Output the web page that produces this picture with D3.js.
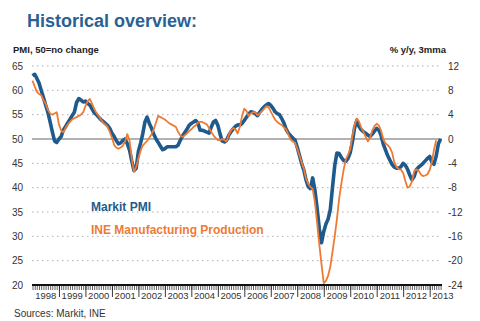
<!DOCTYPE html>
<html>
<head>
<meta charset="utf-8">
<script src="https://cdn.jsdelivr.net/npm/d3@7"></script>
<style>
  html, body { margin: 0; padding: 0; background: #fff; }
  svg { display: block; font-family: "Liberation Sans", Arial, sans-serif; }
</style>
</head>
<body>
<svg id="chart" width="480" height="321"></svg>
<script>
// Spain: Markit manufacturing PMI vs INE manufacturing production
const startMonth = new Date(1998, 0, 1);
const years = [1998, 1999, 2000, 2001, 2002, 2003, 2004, 2005, 2006, 2007, 2008, 2009, 2010, 2011, 2012, 2013];
const leftTicks = [20, 25, 30, 35, 40, 45, 50, 55, 60, 65];
const rightTicks = [-24, -20, -16, -12, -8, -4, 0, 4, 8, 12];

// PMI, 50 = no change (monthly, Jan 1998 - Jun 2013)
const pmi = [
  63.0, 63.3, 62.5, 61.5, 60.0, 58.5, 57.0, 55.5, 53.5, 51.5, 49.6, 49.3,
  50.0, 50.5, 51.8, 52.5, 53.3, 54.0, 54.8, 55.5, 57.5, 58.3, 58.0, 57.6,
  57.8, 57.3, 57.0, 56.2, 55.4, 55.0, 54.5, 54.0, 53.6, 53.2, 52.8, 52.2,
  51.2, 50.5, 49.7, 49.0, 49.2, 49.7, 50.0, 49.0, 47.7, 45.5, 43.5, 44.0,
  47.5, 49.2, 51.0, 53.5, 54.5, 53.2, 52.2, 51.0, 50.0, 49.3, 48.5, 47.8,
  48.0, 48.4, 48.4, 48.4, 48.4, 48.4, 48.7, 49.7, 50.6, 51.3, 52.0, 52.8,
  53.2, 53.5, 53.8, 53.3, 51.8, 51.8, 51.6, 51.4, 51.2, 52.4, 53.5, 53.8,
  52.8, 51.0, 49.6, 49.4, 49.7, 50.8, 51.5, 52.1, 52.6, 52.9, 52.9, 53.2,
  53.8, 54.5, 55.1, 55.6, 55.5, 55.2, 54.8, 55.5, 56.1, 56.6, 57.0, 57.3,
  56.9, 56.3, 55.6, 55.2, 55.0, 54.2, 53.3, 52.0, 51.2, 50.7, 50.2, 49.8,
  48.3, 46.6, 45.0, 43.6, 41.6, 40.2, 39.8, 42.0, 39.5, 35.8, 31.5, 28.7,
  31.0, 32.6, 33.5, 35.5, 40.0, 44.5, 47.1, 47.0, 46.2, 45.6, 45.4, 46.0,
  47.2, 49.5, 52.2, 53.8, 52.6, 51.9, 51.5, 51.2, 50.8, 50.5, 51.0, 51.6,
  52.2, 51.8, 50.8, 49.0, 47.8, 46.6, 45.7, 44.8, 44.2, 44.0, 44.0, 44.3,
  45.0, 44.6, 43.8, 42.6, 41.6, 42.3, 43.7, 44.2, 44.6, 45.0, 45.5, 46.0,
  46.4, 45.2, 44.8, 46.5, 49.0, 50.0
];

// INE manufacturing production, % y/y, 3mma (monthly, Jan 1998 - Apr 2013)
const ine = [
  9.6, 8.6, 7.8, 7.4, 7.2, 6.4, 5.8, 4.8, 4.2, 4.0, 4.2, 4.4,
  2.4, 1.4, 1.1, 1.8, 2.4, 2.8, 3.2, 3.4, 3.6, 3.8, 4.0, 4.4,
  5.4, 6.2, 6.6, 5.8, 5.0, 4.3, 3.8, 3.2, 2.7, 2.4, 2.0, 1.2,
  0.2, -1.0, -1.4, -1.6, -1.4, -1.1, -0.4, 0.8, -0.3, -3.2, -5.4, -4.6,
  -3.2, -1.9, -1.1, -0.7, -0.3, 0.2, 0.8, 1.6, 2.7, 3.8, 3.6, 3.4,
  3.2, 2.9, 2.6, 2.4, 2.2, 2.0, 1.2, 0.6, 0.3, 0.6, 0.9, 1.3,
  1.6, 2.0, 2.2, 2.7, 2.8, 2.8, 2.6, 2.4, 1.8, 1.2, 0.6, 0.2,
  -0.2, -0.2, 0.0, -0.2, -0.4, 0.7, 1.4, 1.8, 1.6, 0.9, 2.0, 3.8,
  5.0, 4.6, 3.8, 4.2, 4.4, 4.4, 3.9, 4.2, 4.6, 5.0, 5.4, 5.2,
  4.5, 3.8, 3.2, 2.8, 2.5, 2.3, 1.9, 1.6, 0.7, -0.1, -0.4, -0.6,
  -1.6, -2.7, -3.8, -4.9, -6.5, -7.4, -7.9, -8.2, -10.4, -13.8, -17.4, -20.6,
  -23.7, -23.3, -22.5, -21.0, -18.6, -16.0, -13.2, -9.8, -7.3, -5.1, -3.4, -2.6,
  -1.7, 0.5, 2.2, 3.4, 2.9, 1.9, 1.2, 0.4, -0.4, 0.2, 1.4, 2.1,
  2.5, 2.2, 1.4, 0.0, -0.7, -1.0, -1.4, -2.2, -3.8, -4.6, -5.0, -5.0,
  -5.6, -6.9, -8.0, -7.8, -7.0, -5.3, -5.0, -5.2, -5.8, -6.1, -6.0, -5.8,
  -5.1, -3.8, -1.8, -0.2
];

const blue = '#1f5a8c';
const orange = '#ef7a33';

const svg = d3.select('#chart');

const x = d3.scaleTime()
  .domain([startMonth, new Date(2013, 5, 20)])
  .range([32.5, 442]);
const yLeft = d3.scaleLinear().domain([20, 65]).range([285, 66]);
const yRight = d3.scaleLinear().domain([-24, 12]).range([285, 66]);

const monthDate = i => d3.timeMonth.offset(startMonth, i);

// title + axis titles
svg.append('text')
  .attr('x', 27).attr('y', 27)
  .attr('font-size', 18).attr('font-weight', 'bold')
  .attr('fill', '#2a6194')
  .text('Historical overview:');

svg.append('text')
  .attr('x', 13).attr('y', 52.5)
  .attr('font-size', 9.5).attr('font-weight', 'bold').attr('fill', '#222')
  .text('PMI, 50=no change');

svg.append('text')
  .attr('x', 446).attr('y', 52.5)
  .attr('text-anchor', 'end')
  .attr('font-size', 9.5).attr('font-weight', 'bold').attr('fill', '#222')
  .text('% y/y, 3mma');

// gridlines
svg.append('g')
  .selectAll('line')
  .data(leftTicks.filter(d => d !== 20 && d !== 50))
  .join('line')
  .attr('x1', 32).attr('x2', 440)
  .attr('y1', d => yLeft(d)).attr('y2', d => yLeft(d))
  .attr('stroke', '#9a9a9a')
  .attr('stroke-width', 0.8)
  .attr('stroke-dasharray', '1.5,3.5');

svg.append('line')
  .attr('x1', 32).attr('x2', 442)
  .attr('y1', yLeft(50)).attr('y2', yLeft(50))
  .attr('stroke', '#555').attr('stroke-width', 0.9);

// left / right tick labels
svg.append('g')
  .selectAll('text')
  .data(leftTicks)
  .join('text')
  .attr('x', 23).attr('y', d => yLeft(d) + 3.5)
  .attr('text-anchor', 'end')
  .attr('font-size', 10).attr('fill', '#333')
  .text(d => d);

svg.append('g')
  .selectAll('text')
  .data(rightTicks)
  .join('text')
  .attr('x', 448).attr('y', d => yRight(d) + 3.5)
  .attr('font-size', 10).attr('fill', '#333')
  .text(d => d);

// x axis: monthly minor ticks, yearly major ticks
const end = x.domain()[1];
const xMinor = d3.axisBottom(x)
  .tickValues(d3.timeMonth.range(startMonth, end))
  .tickSize(5)
  .tickFormat('');
const xMajor = d3.axisBottom(x)
  .tickValues(d3.timeYear.range(new Date(1999, 0, 1), end))
  .tickSize(12)
  .tickFormat('');

svg.append('g')
  .attr('transform', 'translate(0,285)')
  .call(xMinor)
  .call(g => g.select('.domain').remove())
  .call(g => g.selectAll('line').attr('stroke', '#222').attr('stroke-width', 0.7));

svg.append('g')
  .attr('transform', 'translate(0,285)')
  .call(xMajor)
  .call(g => g.select('.domain').remove())
  .call(g => g.selectAll('line').attr('stroke', '#222').attr('stroke-width', 0.9));

svg.append('line')
  .attr('x1', 32).attr('x2', 442)
  .attr('y1', 285).attr('y2', 285)
  .attr('stroke', '#111').attr('stroke-width', 2);

svg.append('g')
  .selectAll('text')
  .data(years)
  .join('text')
  .attr('x', d => (x(new Date(d, 0, 1)) + x(new Date(d + 1, 0, 1))) / 2)
  .attr('y', 299)
  .attr('text-anchor', 'middle')
  .attr('font-size', 9.5).attr('fill', '#333')
  .text(d => d);

// series
const pmiLine = d3.line()
  .x((d, i) => x(monthDate(i)))
  .y(d => yLeft(d));
const ineLine = d3.line()
  .x((d, i) => x(monthDate(i)))
  .y(d => yRight(d));

svg.append('path')
  .datum(pmi)
  .attr('d', pmiLine)
  .attr('fill', 'none')
  .attr('stroke', blue)
  .attr('stroke-width', 3.6)
  .attr('stroke-linejoin', 'round');

svg.append('path')
  .datum(ine)
  .attr('d', ineLine)
  .attr('fill', 'none')
  .attr('stroke', orange)
  .attr('stroke-width', 1.8)
  .attr('stroke-linejoin', 'round');

// legend labels
svg.append('text')
  .attr('x', 91).attr('y', 211)
  .attr('font-size', 12).attr('font-weight', 'bold')
  .attr('fill', blue)
  .text('Markit PMI');

svg.append('text')
  .attr('x', 91).attr('y', 234)
  .attr('font-size', 12).attr('font-weight', 'bold')
  .attr('fill', orange)
  .text('INE Manufacturing Production');

svg.append('text')
  .attr('x', 14).attr('y', 316.5)
  .attr('font-size', 10).attr('fill', '#333')
  .text('Sources: Markit, INE');
</script>
</body>
</html>
